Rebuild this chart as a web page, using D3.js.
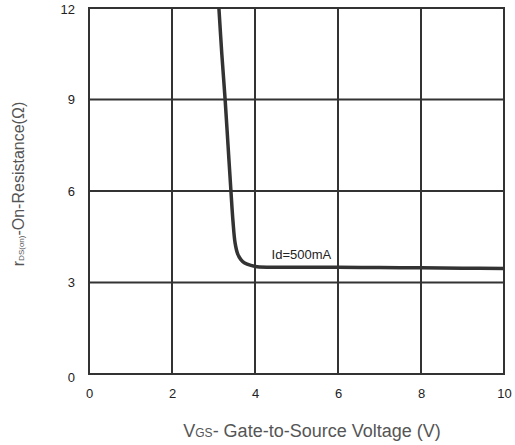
<!DOCTYPE html>
<html>
<head>
<meta charset="utf-8">
<script src="https://cdn.jsdelivr.net/npm/d3@7"></script>
<style>
  body { margin: 0; background: #fff; }
  text { font-family: "Liberation Sans", Arial, sans-serif; }
</style>
</head>
<body>
<div id="chart"></div>
<script>
// Vgs (V) vs rDS(on) (ohm) at Id = 500mA
const vgs = [3.13, 3.2, 3.28, 3.35, 3.42, 3.47, 3.52, 3.58, 3.66, 3.75, 3.9, 4.05, 4.5, 5, 6, 7, 8, 9, 10];
const ron = [12, 10.5, 9, 7.5, 6, 5, 4.3, 3.95, 3.75, 3.64, 3.56, 3.52, 3.5, 3.5, 3.5, 3.49, 3.48, 3.47, 3.46];
const xTicks = [0, 2, 4, 6, 8, 10];
const yTicks = [0, 3, 6, 9, 12];
const curveLabel = "Id=500mA";

const width = 515, height = 445;
const margin = {top: 8, right: 11, bottom: 71, left: 89};

const svg = d3.select("#chart").append("svg")
  .attr("width", width)
  .attr("height", height);

const x = d3.scaleLinear().domain([0, 10]).range([margin.left, width - margin.right]);
const y = d3.scaleLinear().domain([0, 12]).range([height - margin.bottom, margin.top]);

// grid
svg.append("g")
  .selectAll("line")
  .data(xTicks)
  .enter().append("line")
  .attr("x1", d => x(d)).attr("x2", d => x(d))
  .attr("y1", y(0)).attr("y2", y(12))
  .attr("stroke", "#333").attr("stroke-width", 2);

svg.append("g")
  .selectAll("line")
  .data(yTicks)
  .enter().append("line")
  .attr("x1", x(0) - 1).attr("x2", x(10) + 1)
  .attr("y1", d => y(d)).attr("y2", d => y(d))
  .attr("stroke", "#333").attr("stroke-width", 2);

// axes labels
svg.append("g")
  .attr("transform", "translate(0," + (y(0) + 15) + ")")
  .call(d3.axisBottom(x).tickValues(xTicks).tickSize(0).tickPadding(0))
  .call(g => g.select(".domain").remove())
  .selectAll("text")
  .attr("font-size", 13).attr("fill", "#222");

svg.append("g")
  .attr("transform", "translate(" + (x(0) - 14) + ",0)")
  .call(d3.axisLeft(y).tickValues(yTicks).tickSize(0).tickPadding(0))
  .call(g => g.select(".domain").remove())
  .selectAll("text")
  .attr("font-size", 13).attr("fill", "#222")
  .attr("dy", d => d === 0 ? "0.55em" : d === 12 ? "0.45em" : "0.32em");

// curve
svg.append("path")
  .datum(ron)
  .attr("fill", "none")
  .attr("stroke", "#333")
  .attr("stroke-width", 3.5)
  .attr("d", d3.line().x((d, i) => x(vgs[i])).y(d => y(d)).curve(d3.curveCatmullRom));

svg.append("text")
  .attr("x", x(4.4)).attr("y", y(3.78))
  .attr("font-size", 13).attr("fill", "#222")
  .text(curveLabel);

// x title
const xt = svg.append("text")
  .attr("x", 312).attr("y", 437)
  .attr("text-anchor", "middle")
  .attr("font-size", 18).attr("fill", "#555");
xt.append("tspan").text("V");
xt.append("tspan").attr("font-size", 12).text("GS");
xt.append("tspan").text("- Gate-to-Source Voltage (V)");

// y title
const yt = svg.append("text")
  .attr("transform", "translate(24,184) rotate(-90)")
  .attr("text-anchor", "middle")
  .attr("font-size", 16).attr("fill", "#555");
yt.append("tspan").text("r");
yt.append("tspan").attr("font-size", 8).text("DS(on)");
yt.append("tspan").text("-On-Resistance(\u03A9)");
</script>
</body>
</html>
